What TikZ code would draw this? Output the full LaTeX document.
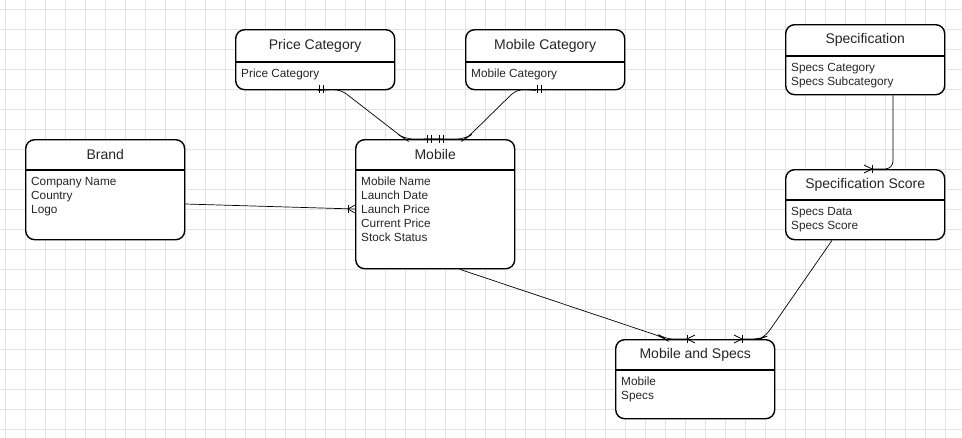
\documentclass[tikz,border=0pt]{standalone}
\usepackage{fontspec}
\setmainfont{Liberation Sans}
\usetikzlibrary{calc}

\tikzset{
  box/.style={draw, fill=white, line width=1.4pt, rounded corners=9pt, anchor=north west, inner sep=0pt},
  title/.style={font=\fontsize{14}{16}\selectfont, text=black!85},
  attr/.style={font=\fontsize{11.8}{14}\selectfont, text=black!85, align=left, anchor=north west, inner sep=0pt},
  rel/.style={line width=0.7pt, rounded corners=8pt},
  tick/.style={line width=0.7pt}
}

% entity: name, x, y, width, height, header height, title, attributes
\newcommand{\entity}[8]{
  \node[box, minimum width=#4, minimum height=#5] (#1) at (#2,#3) {};
  \draw[line width=1.2pt] ($(#1.north west)+(0,#6)$) -- ($(#1.north east)+(0,#6)$);
  \node[title] (#1t) at ($(#1.north)+(0,#6/2)$) {#7};
  \node[attr] (#1a) at ($(#1.north west)+(6,#6+7)$) {#8};
}

\begin{document}
\begin{tikzpicture}[x=1pt, y=-1pt]
\useasboundingbox (0,0) rectangle (962,437);

% Grid
\draw[black!11, line width=0.4pt, step=20pt, shift={(5,9)}] (-5,-9) grid (962,437);

% Entities
\entity{pricecat}{235}{29}{159pt}{60pt}{33}{Price Category}{Price Category}
\entity{mobilecat}{465}{29}{159pt}{60pt}{33}{Mobile Category}{Mobile Category}
\entity{spec}{785}{24}{159pt}{70pt}{32}{Specification}{Specs Category\\Specs Subcategory}
\entity{brand}{25}{139}{159pt}{100pt}{31}{Brand}{Company Name\\Country\\Logo}
\entity{mobile}{355}{139}{159pt}{129pt}{31}{Mobile}{Mobile Name\\Launch Date\\Launch Price\\Current Price\\Stock Status}
\entity{specscore}{785}{169}{159pt}{70pt}{31}{Specification Score}{Specs Data\\Specs Score}
\entity{mobspecs}{615}{339}{159pt}{79pt}{31}{Mobile and Specs}{Mobile\\Specs}

% Relations
\coordinate (pc1) at ($(pricecat.south west)+(83,0)$);
\coordinate (mc1) at ($(mobilecat.south west)+(71,0)$);
\coordinate (mo1) at ($(mobile.north west)+(88,0)$);
\coordinate (mo2) at ($(mobile.north west)+(69,0)$);
\draw[rel] (pc1) -- (340,89) -- (402,137) -- (405,139) -- (mo1);
\draw[rel] (mc1) -- (517,89) -- (468,137) -- (465,139) -- (mo2);
\foreach \x in {319,323,537,541} \draw[tick] (\x,85) -- (\x,93);
\foreach \x in {427,431,439,443} \draw[tick] (\x,135) -- (\x,143);

\coordinate (br1) at ($(brand.north east)+(0,65)$);
\coordinate (mo3) at ($(mobile.north west)+(0,70)$);
\draw[rel] (br1) -- (mo3);
\draw[tick] (348,205) -- (348,213);
\draw[tick] (355,205) -- (348,209) -- (355,213);

\coordinate (mo4) at ($(mobile.south west)+(105,0)$);
\coordinate (ss1) at ($(specscore.south west)+(47,0)$);
\coordinate (ms1) at ($(mobspecs.north west)+(72,0)$);
\coordinate (ms2) at ($(mobspecs.north west)+(127,0)$);
\draw[rel] (mo4) -- (662,337) -- (665,339) -- (ms1);
\draw[rel] (ss1) -- (765,337) -- (760,339) -- (ms2);
\draw[tick] (687,335) -- (687,343);
\draw[tick] (695,335) -- (687,339) -- (695,343);
\draw[tick] (742,335) -- (742,343);
\draw[tick] (734,335) -- (742,339) -- (734,343);

\coordinate (sp1) at ($(spec.south west)+(108,0)$);
\coordinate (ss2) at ($(specscore.north west)+(87,0)$);
\draw[rel] (sp1) -- (893,169) -- (ss2);
\draw[tick] (872,165) -- (872,173);
\draw[tick] (864,165) -- (872,169) -- (864,173);

\end{tikzpicture}
\end{document}
